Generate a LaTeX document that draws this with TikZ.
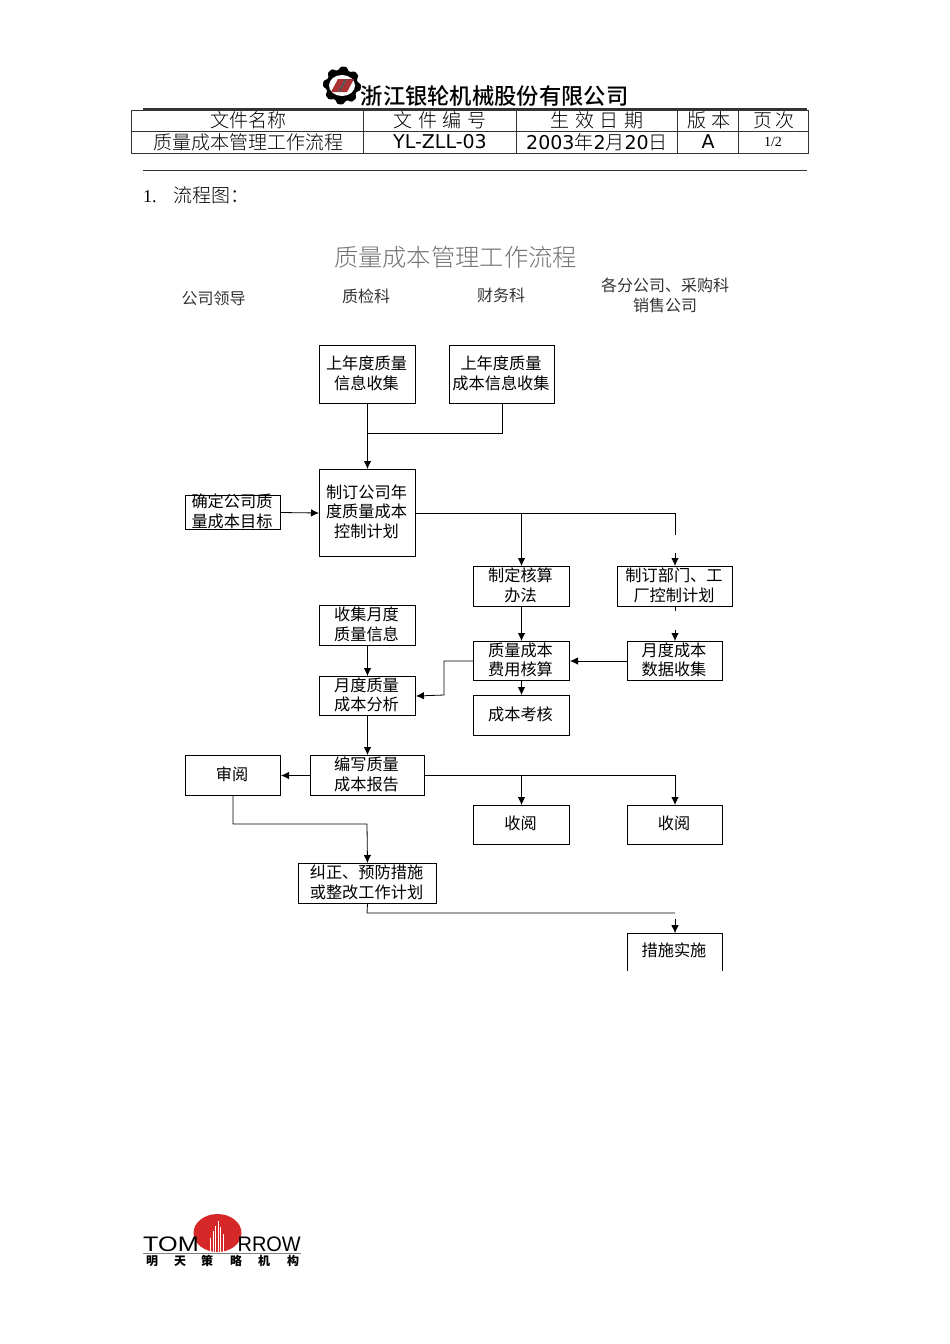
\documentclass[tikz,border=0pt]{standalone}
\usepackage{fontspec}
\setmainfont{Liberation Serif}
\newfontfamily\cjk{Noto Sans CJK SC}
\newfontfamily\cjkl{Noto Sans CJK SC}[UprightFont=* Light,BoldFont=* Medium]
\newfontfamily\dv{DejaVu Sans}
\newfontfamily\ls{Liberation Sans}
\usetikzlibrary{arrows.meta,calc}
\definecolor{titlegray}{gray}{0.45}
\definecolor{logored}{RGB}{214,40,40}
\definecolor{zred}{RGB}{170,50,50}
\tikzset{
  x=1pt,y=-1pt,
  flowbox/.style={draw=black,line width=0.8pt,inner sep=0pt,font=\fontsize{16.2}{19}\selectfont\cjk},
  openbox/.style={inner sep=0pt,font=\fontsize{16.2}{19}\selectfont\cjk},
  label/.style={inner sep=0pt,align=center,font=\fontsize{16}{20}\selectfont\cjk,text=black!80},
  cell/.style={inner sep=0pt,align=center,font=\fontsize{19}{21}\selectfont\cjkl},
  latincell/.style={inner sep=0pt,font=\fontsize{19}{21}\selectfont\dv},
  flow/.style={line width=0.8pt,draw=black},
  flowto/.style={flow,-{Latex[length=8pt,width=7.5pt]}},
  rule/.style={line width=0.8pt,draw=black!80}
}
\newcommand{\btxt}[1]{\raisebox{-5.2pt}[0pt][0pt]{\begin{tabular}[c]{@{}c@{}}#1\end{tabular}}\kern2pt}
\newcommand{\fbx}[6]{\node[flowbox,minimum width=#4pt-#2pt-0.8pt,minimum height=#5pt-#3pt-0.8pt] (#1) at ({(#2+#4)/2},{(#3+#5)/2}) {\btxt{#6}};}
\begin{document}
\begin{tikzpicture}
\useasboundingbox[fill=white] (0,0) rectangle (950,1344);
% header
\coordinate (gc) at (342,85.5);
\filldraw[black,line width=3pt,line join=round] ($(gc)+(0:17.5)$)
  \foreach \a in {0,45,...,315} { -- ($(gc)+(\a+12:17.5)$) -- ($(gc)+(\a+22:14.5)$) -- ($(gc)+(\a+33:14.5)$) -- ($(gc)+(\a+45:17.5)$) } -- cycle;
\fill[white] (gc) ellipse (13 and 10.5);
\fill[zred] (331,92) -- (338,79) -- (345,79) -- (338,92) -- cycle;
\fill[zred] (340,92) -- (347,79) -- (354,79) -- (347,92) -- cycle;
\fill[black!70] (338,92) -- (345,79) -- (347,79) -- (340,92) -- cycle;
\node[inner sep=0pt,font=\fontsize{22.3}{24}\selectfont\cjkl\bfseries] (co) at (494.5,96) {浙江银轮机械股份有限公司};
\draw[line width=1.2pt,draw=black!80] (143,109) -- (807,109);
\draw[rule] (131,110) rectangle (808,153);
\draw[rule] (131,131) -- (808,131);
\foreach \xx in {363,516,677,738} \draw[rule] (\xx,110) -- (\xx,153);
\node[cell] (h1) at (248,120) {文件名称};
\node[cell] (h2) at (440,120) {文\hspace{5.7pt}件\hspace{5.7pt}编\hspace{5.7pt}号};
\node[cell] (h3) at (597,120) {生\hspace{5.7pt}效\hspace{5.7pt}日\hspace{5.7pt}期};
\node[cell] (h4) at (709,120) {版\hspace{6pt}本};
\node[cell] (h5) at (774,120) {页\hspace{4pt}次};
\node[cell] (v1) at (248,142) {质量成本管理工作流程};
\node[latincell] (v2) at (440,142) {YL-ZLL-03};
\node[latincell] (v3) at (597,142) {2003{\cjkl 年}2{\cjkl 月}20{\cjkl 日}};
\node[latincell] (v4) at (708,142) {A};
\node[inner sep=0pt,font=\fontsize{14}{16}\selectfont] (v5) at (773,142) {1/2};
\draw[rule] (143,170) -- (807,170);
\node[inner sep=0pt,anchor=west,font=\fontsize{19}{20}\selectfont\cjkl] (sec) at (143,195) {{\rmfamily\fontsize{18}{20}\selectfont 1.}\hspace{17pt}流程图：};
% titles
\node[inner sep=0pt,font=\fontsize{24.3}{28}\selectfont\cjkl,text=titlegray] (ttl) at (455.5,257) {质量成本管理工作流程};
\node[label] (l1) at (213.5,298) {公司领导};
\node[label] (l2) at (366,296) {质检科};
\node[label] (l3) at (501,295) {财务科};
\node[label] (l4) at (665,295) {各分公司、采购科\\销售公司};
% boxes
\fbx{a}{319}{345}{416}{404}{上年度质量\\信息收集}
\fbx{b}{449}{345}{555}{404}{上年度质量\\成本信息收集}
\fbx{plan}{319}{469}{416}{557}{制订公司年\\度质量成本\\控制计划}
\fbx{goal}{185}{495}{281}{530}{确定公司质\\量成本目标}
\fbx{calc}{473}{566}{570}{607}{制定核算\\办法}
\fbx{dept}{617}{566}{733}{607}{制订部门、工\\厂控制计划}
\fbx{coll}{319}{605}{416}{646}{收集月度\\质量信息}
\fbx{anal}{319}{676}{416}{716}{月度质量\\成本分析}
\fbx{fee}{473}{641}{570}{681}{质量成本\\费用核算}
\fbx{cost}{627}{641}{723}{681}{月度成本\\数据收集}
\fbx{exam}{473}{695}{570}{736}{成本考核}
\fbx{rev}{185}{755}{281}{796}{审阅}
\fbx{rep}{310}{755}{425}{796}{编写质量\\成本报告}
\fbx{rc1}{473}{805}{570}{845}{收阅}
\fbx{rc2}{627}{805}{723}{845}{收阅}
\fbx{fix}{298}{863}{437}{904}{纠正、预防措施\\或整改工作计划}
\node[openbox,minimum width=95.2pt,minimum height=37.2pt] (act) at (675,952) {\btxt{措施实施}};
\draw[line width=0.8pt] (act.south west) -- (act.north west) -- (act.north east) -- (act.south east);
% connectors
\coordinate (j1) at (367,433);
\draw[flow] (b.south) |- (j1);
\draw[flowto] (a.south) -- (plan.north);
\draw[flowto] (goal.east) -- (plan.west);
\draw[flowto] (plan.east) -| (calc.north);
\coordinate (g1) at (675,535);
\coordinate (g2) at (675,553);
\draw[flow] (plan.east) -| (g1);
\draw[flowto] (g2) -- (dept.north);
\coordinate (g3) at (675,611);
\coordinate (g4) at (675,630);
\draw[flow] (dept.south) -- (g3);
\draw[flowto] (g4) -- (cost.north);
\draw[flowto] (calc.south) -- (fee.north);
\draw[flowto] (cost.west) -- (fee.east);
\coordinate (k1) at (444,661);
\coordinate (k2) at (444,695);
\draw[flowto] (fee.west) -- (k1) -- (k2) -- (anal.east);
\draw[flowto] (coll.south) -- (anal.north);
\draw[flowto] (fee.south) -- (exam.north);
\draw[flowto] (anal.south) -- (rep.north);
\draw[flowto] (rep.west) -- (rev.east);
\draw[flowto] (rep.east) -| (rc1.north);
\draw[flowto] (rep.east) -| (rc2.north);
\coordinate (m1) at (233,824);
\coordinate (m2) at (367,824);
\draw[flowto] (rev.south) -- (m1) -- (m2) -- (fix.north);
\coordinate (n1) at (367,913);
\coordinate (n2) at (675,913);
\coordinate (n3) at (675,919);
\draw[flow] (fix.south) -- (n1) -- (n2);
\draw[flowto] (n3) -- (act.north);
% footer logo
\fill[logored] (217.5,1233) ellipse (24 and 19);
\foreach \xx/\yy in {210/1238,213/1231,215.5/1226,218/1221,220.5/1227,223/1234} \draw[white,line width=0.8pt] (\xx,1252) -- (\xx,\yy);
\node[inner sep=0pt,anchor=west,font=\fontsize{21}{24}\selectfont\ls] (tom) at (143,1244) {\scalebox{1.2}[1]{TOM}};
\node[inner sep=0pt,anchor=east,font=\fontsize{21}{24}\selectfont\ls] (row) at (301,1244) {\scalebox{0.95}[1]{RROW}};
\draw[line width=1.4pt,draw=black!50] (143,1253.5) -- (301,1253.5);
\node[inner sep=0pt,font=\fontsize{12}{13}\selectfont\cjk\bfseries] (f0) at (152,1261) {明};
\node[inner sep=0pt,font=\fontsize{12}{13}\selectfont\cjk\bfseries] (f1) at (180,1261) {天};
\node[inner sep=0pt,font=\fontsize{12}{13}\selectfont\cjk\bfseries] (f2) at (207,1261) {策};
\node[inner sep=0pt,font=\fontsize{12}{13}\selectfont\cjk\bfseries] (f3) at (236,1261) {略};
\node[inner sep=0pt,font=\fontsize{12}{13}\selectfont\cjk\bfseries] (f4) at (264,1261) {机};
\node[inner sep=0pt,font=\fontsize{12}{13}\selectfont\cjk\bfseries] (f5) at (293,1261) {构};
\end{tikzpicture}
\end{document}
